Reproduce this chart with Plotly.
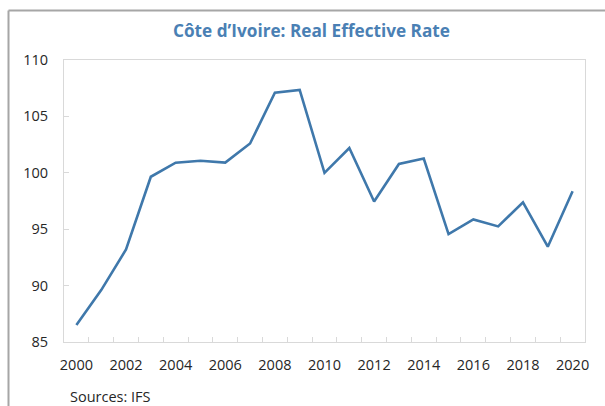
import plotly.graph_objects as go

# Real effective exchange rate index, Côte d'Ivoire
years = list(range(2000, 2021))
reer = [86.5, 89.6, 93.2, 99.65, 100.9, 101.07, 100.9, 102.6, 107.1, 107.35,
        100.0, 102.2, 97.45, 100.78, 101.27, 94.57, 95.87, 95.25, 97.38, 93.45, 98.36]

label_years = list(range(2000, 2021, 2))
label_text = [str(y) for y in label_years]
y_ticks = [85, 90, 95, 100, 105, 110]

line_color = "#3f78ab"
title_color = "#4a80b4"
text_color = "#262626"
axis_color = "#d9d9d9"
frame_color = "#a6a6a6"
font_family = "Open Sans"

W, H = 605, 406
L, R, T, B = 64, 20, 60, 64
pw, ph = W - L - R, H - T - B


def px_x(x):
    return (x - L) / pw


def px_y(y):
    return (H - B - y) / ph


fig = go.Figure()
fig.add_trace(go.Scatter(
    x=years, y=reer, mode="lines",
    line=dict(color=line_color, width=2.6),
    hoverinfo="x+y", showlegend=False,
))

# category boundaries for the small inward ticks on the x axis
boundaries = [y + 0.5 for y in years[:-1]]

fig.update_layout(
    width=W, height=H,
    margin=dict(l=L, r=R, t=T, b=B),
    paper_bgcolor="white", plot_bgcolor="white",
    font=dict(family=font_family, size=14.5, color=text_color),
    xaxis=dict(
        range=[1999.5, 2020.5],
        tickmode="array", tickvals=label_years, ticktext=label_text,
        ticks="", showgrid=False, zeroline=False,
        showline=True, linecolor=axis_color, linewidth=1, mirror=True,
        ticklabelstandoff=10,
        minor=dict(tickmode="array", tickvals=boundaries, ticks="inside",
                   ticklen=5, tickcolor=axis_color, tickwidth=1, showgrid=False),
    ),
    yaxis=dict(
        range=[85, 110],
        tickmode="array", tickvals=y_ticks,
        ticks="inside", ticklen=5, tickcolor=axis_color, tickwidth=1,
        showgrid=False, zeroline=False,
        showline=True, linecolor=axis_color, linewidth=1, mirror=True,
        ticklabelstandoff=12,
    ),
    shapes=[
        # outer frame: top and left rules
        dict(type="line", xref="paper", yref="paper",
             x0=px_x(8.5), x1=px_x(W + 10), y0=px_y(10.5), y1=px_y(10.5),
             line=dict(color=frame_color, width=2)),
        dict(type="line", xref="paper", yref="paper",
             x0=px_x(8.5), x1=px_x(8.5), y0=px_y(10.5), y1=px_y(H + 10),
             line=dict(color=frame_color, width=2)),
    ],
    annotations=[
        dict(text="<b>Côte d’Ivoire: Real Effective Rate</b>",
             xref="paper", yref="paper", x=px_x(311), y=px_y(31),
             xanchor="center", yanchor="middle", showarrow=False,
             font=dict(family=font_family, size=17.2, color=title_color)),
        dict(text="Sources: IFS",
             xref="paper", yref="paper", x=px_x(68), y=px_y(396),
             xanchor="left", yanchor="middle", showarrow=False,
             font=dict(family=font_family, size=14.5, color=text_color)),
    ],
)

fig.write_html("out.html")
